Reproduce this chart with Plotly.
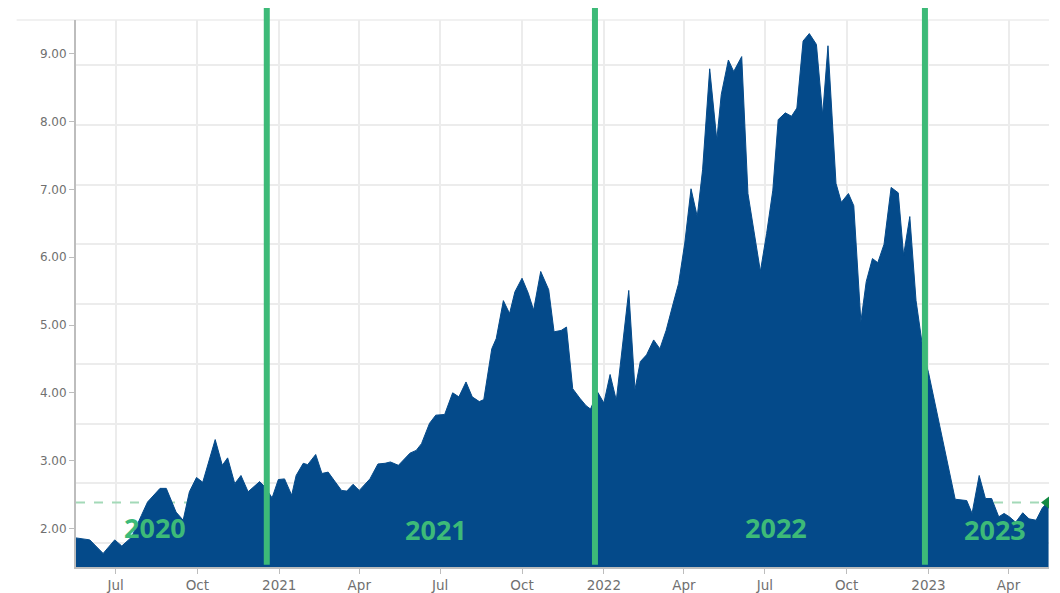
"""Area chart with year markers, recreated in Plotly."""

import plotly.graph_objects as go

AZUL = '#044a8a'
VERDE = '#3dba78'
VERDE_CLARO = '#a3d9b8'
VERDE_OSCURO = '#138a43'
GRIS_TEXTO = '#707070'
GRIS_GRID = '#ececec'
GRIS_EJE = '#bdbdbd'

fechas = [
    '2020-05-17', '2020-06-02', '2020-06-17', '2020-06-30', '2020-07-08', '2020-07-19',
    '2020-07-30', '2020-08-06', '2020-08-20', '2020-08-27', '2020-09-07', '2020-09-15',
    '2020-09-22', '2020-09-30', '2020-10-07', '2020-10-21', '2020-10-29', '2020-11-04',
    '2020-11-12', '2020-11-19', '2020-11-27', '2020-12-10', '2020-12-16', '2020-12-24',
    '2020-12-31', '2021-01-07', '2021-01-15', '2021-01-20', '2021-01-28', '2021-02-02',
    '2021-02-11', '2021-02-18', '2021-02-25', '2021-03-12', '2021-03-18', '2021-03-25',
    '2021-04-01', '2021-04-13', '2021-04-22', '2021-04-30', '2021-05-06', '2021-05-15',
    '2021-05-28', '2021-06-04', '2021-06-10', '2021-06-19', '2021-06-26', '2021-07-06',
    '2021-07-15', '2021-07-22', '2021-07-30', '2021-08-06', '2021-08-14', '2021-08-19',
    '2021-08-28', '2021-09-02', '2021-09-10', '2021-09-17', '2021-09-23', '2021-10-01',
    '2021-10-08', '2021-10-14', '2021-10-22', '2021-10-31', '2021-11-06', '2021-11-14',
    '2021-11-20', '2021-11-27', '2021-12-05', '2021-12-12', '2021-12-17', '2021-12-25',
    '2022-01-01', '2022-01-08', '2022-01-15', '2022-01-29', '2022-02-05', '2022-02-11',
    '2022-02-18', '2022-02-26', '2022-03-05', '2022-03-12', '2022-03-20', '2022-03-26',
    '2022-04-02', '2022-04-09', '2022-04-16', '2022-04-22', '2022-04-30', '2022-05-08',
    '2022-05-13', '2022-05-21', '2022-05-27', '2022-06-05', '2022-06-12', '2022-06-20',
    '2022-06-26', '2022-07-03', '2022-07-10', '2022-07-16', '2022-07-24', '2022-07-31',
    '2022-08-06', '2022-08-13', '2022-08-20', '2022-08-28', '2022-09-04', '2022-09-10',
    '2022-09-19', '2022-09-25', '2022-10-03', '2022-10-09', '2022-10-17', '2022-10-23',
    '2022-10-30', '2022-11-05', '2022-11-12', '2022-11-20', '2022-11-28', '2022-12-04',
    '2022-12-11', '2022-12-18', '2022-12-27', '2023-01-01', '2023-01-12', '2023-01-23',
    '2023-01-31', '2023-02-13', '2023-02-19', '2023-02-27', '2023-03-06', '2023-03-13',
    '2023-03-21', '2023-03-27', '2023-04-02', '2023-04-09', '2023-04-17', '2023-04-24',
    '2023-05-02', '2023-05-09', '2023-05-16',
]
valores = [
    1.86, 1.83, 1.63, 1.83, 1.74, 1.87,
    2.19, 2.39, 2.59, 2.59, 2.24, 2.12,
    2.54, 2.75, 2.68, 3.31, 2.93, 3.04,
    2.66, 2.78, 2.54, 2.69, 2.61, 2.45,
    2.72, 2.73, 2.49, 2.78, 2.96, 2.94,
    3.09, 2.81, 2.83, 2.56, 2.55, 2.65,
    2.56, 2.73, 2.95, 2.96, 2.98, 2.93,
    3.11, 3.15, 3.25, 3.55, 3.67, 3.68,
    4.00, 3.94, 4.16, 3.94, 3.87, 3.90,
    4.65, 4.80, 5.36, 5.17, 5.49, 5.69,
    5.47, 5.22, 5.79, 5.52, 4.90, 4.92,
    4.97, 4.06, 3.92, 3.81, 3.76, 4.01,
    3.85, 4.27, 3.89, 5.51, 4.05, 4.46,
    4.56, 4.78, 4.65, 4.92, 5.32, 5.61,
    6.21, 7.01, 6.60, 7.29, 8.78, 7.73,
    8.40, 8.91, 8.74, 8.96, 6.94, 6.30,
    5.79, 6.35, 6.99, 8.03, 8.13, 8.08,
    8.20, 9.19, 9.30, 9.14, 8.10, 9.12,
    7.09, 6.81, 6.94, 6.76, 5.05, 5.64,
    5.98, 5.92, 6.19, 7.03, 6.95, 6.03,
    6.60, 5.36, 4.53, 4.30, 3.60, 2.95,
    2.43, 2.41, 2.22, 2.78, 2.44, 2.44,
    2.17, 2.22, 2.17, 2.09, 2.23, 2.14,
    2.12, 2.30, 2.40,
]

valor_actual = 2.38
cortes_anio = ['2020-12-18', '2021-12-22', '2022-12-28']
etiquetas_anio = ['2020', '2021', '2022', '2023']
etiquetas_x = [0.0812, 0.3703, 0.7194, 0.9443]
etiquetas_y = [0.072, 0.068, 0.072, 0.068]

ticks_x = ['2020-07-01', '2020-10-01', '2021-01-01', '2021-04-01', '2021-07-01', '2021-10-01',
           '2022-01-01', '2022-04-01', '2022-07-01', '2022-10-01', '2023-01-01', '2023-04-01']
textos_x = ['Jul', 'Oct', '2021', 'Apr', 'Jul', 'Oct', '2022', 'Apr', 'Jul', 'Oct', '2023', 'Apr']
ticks_y = [2, 3, 4, 5, 6, 7, 8, 9]

rango_x = ['2020-05-17 12:00', '2023-05-16 12:00']

fig = go.Figure()

# linea de referencia punteada (queda detras del area)
fig.add_trace(go.Scatter(
    x=rango_x, y=[valor_actual, valor_actual], mode='lines',
    line=dict(color=VERDE_CLARO, width=2, dash='dash'),
    hoverinfo='skip', showlegend=False))

fig.add_trace(go.Scatter(
    x=fechas, y=valores, mode='lines', fill='tozeroy',
    line=dict(color=AZUL, width=1), fillcolor=AZUL,
    hovertemplate='%{x|%d %b %Y}<br>%{y:.2f}<extra></extra>', showlegend=False))

fig.add_trace(go.Scatter(
    x=[fechas[-1]], y=[valor_actual], mode='markers',
    marker=dict(symbol='triangle-left', size=15, color=VERDE_OSCURO),
    hoverinfo='skip', showlegend=False))

# eje auxiliar solo para la reticula horizontal
fig.add_trace(go.Scatter(x=[], y=[], yaxis='y2', showlegend=False))

for fecha in cortes_anio:
    fig.add_shape(type='line', xref='x', yref='paper', x0=fecha, x1=fecha,
                  y0=0.004, y1=1.022, line=dict(color=VERDE, width=6), layer='above')

fig.add_shape(type='line', xref='paper', yref='paper', x0=-0.061, x1=1, y0=1, y1=1,
              line=dict(color=GRIS_GRID, width=1.5), layer='below')

for txt, px, py in zip(etiquetas_anio, etiquetas_x, etiquetas_y):
    fig.add_annotation(text=txt, x=px, y=py, xref='paper', yref='paper',
                       showarrow=False, xanchor='center', yanchor='middle',
                       font=dict(family='Open Sans', size=27, color=VERDE, weight='bold'))

fig.update_layout(
    width=1060, height=593,
    margin=dict(l=76, r=11, t=20, b=26),
    plot_bgcolor='white', paper_bgcolor='white',
    font=dict(family='DejaVu Sans', color=GRIS_TEXTO),
    xaxis=dict(
        type='date', range=rango_x, automargin=False,
        tickvals=ticks_x, ticktext=textos_x,
        showgrid=True, gridcolor=GRIS_GRID, gridwidth=1.5,
        showline=True, linecolor=GRIS_EJE, linewidth=2,
        ticks='outside', ticklen=5, tickcolor=GRIS_EJE,
        tickfont=dict(size=13.5, color=GRIS_TEXTO),
        zeroline=False,
    ),
    yaxis=dict(
        range=[1.43, 9.50], tickvals=ticks_y, tickformat='.2f', automargin=False,
        showgrid=False, zeroline=False,
        showline=True, linecolor=GRIS_EJE, linewidth=2,
        ticks='outside', ticklen=5, tickcolor=GRIS_EJE,
        tickfont=dict(size=12, color=GRIS_TEXTO),
    ),
    yaxis2=dict(
        overlaying='y', range=[0, 547], tick0=24, dtick=59.75, automargin=False,
        showgrid=True, gridcolor=GRIS_GRID, gridwidth=1.5,
        showticklabels=False, zeroline=False, showline=False,
    ),
)

# quitar el margen del body para que la figura ocupe justo la ventana
fig.write_html('out.html', config={'displayModeBar': False},
               post_script="document.body.style.margin='0';document.body.style.overflow='hidden';")
